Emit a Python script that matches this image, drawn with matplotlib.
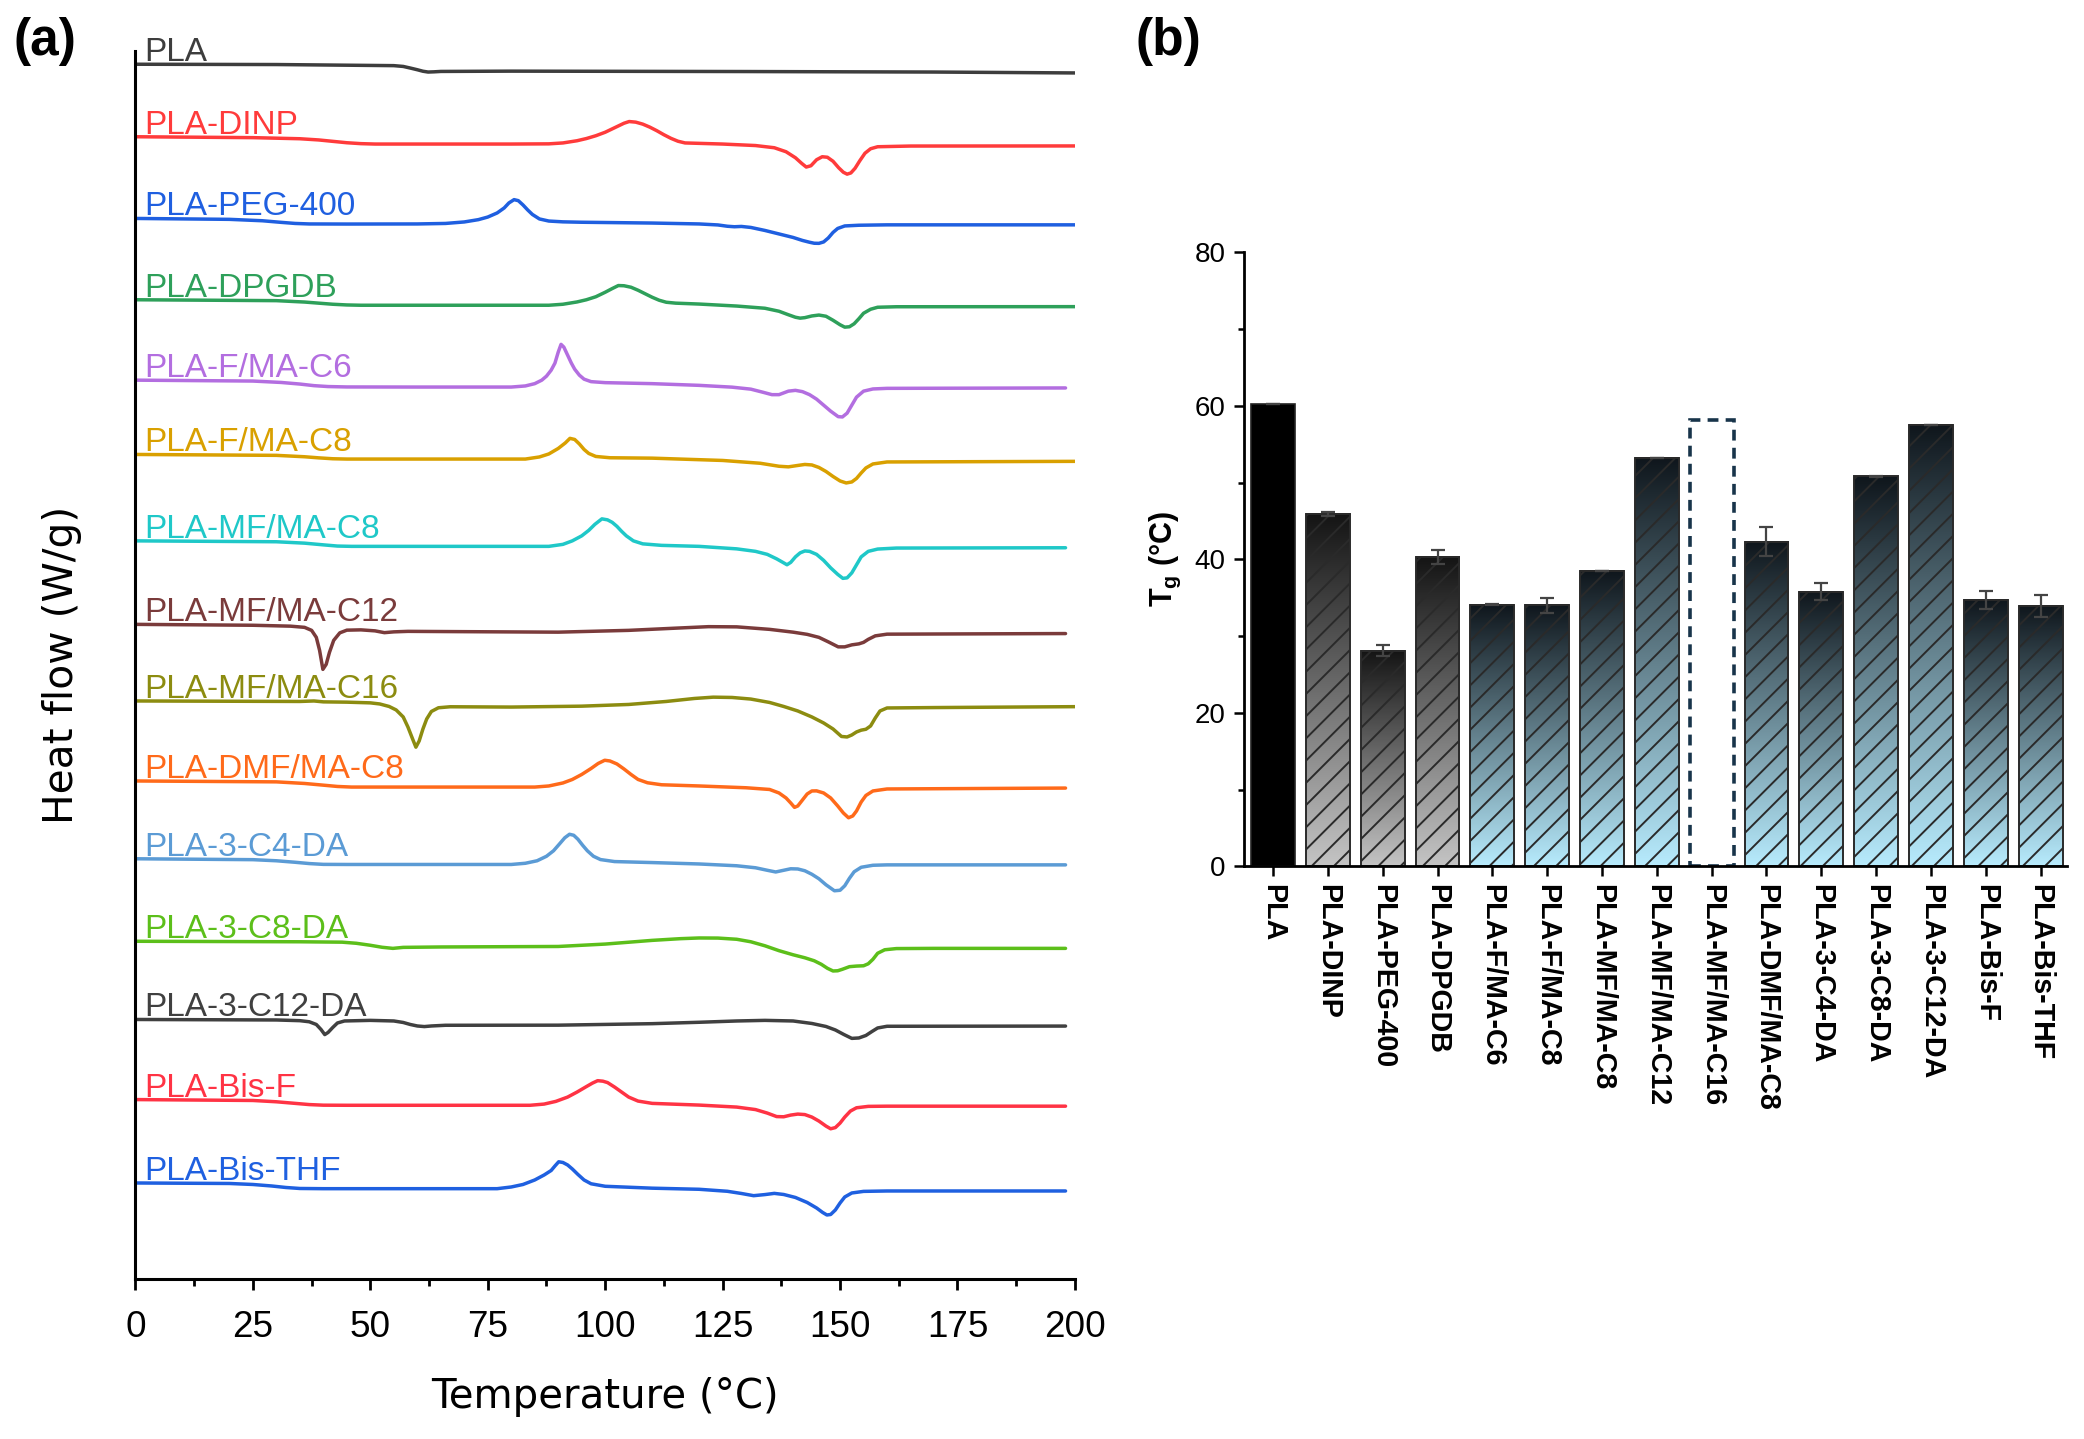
import numpy as np
import matplotlib
matplotlib.use("Agg")
import matplotlib.pyplot as plt
from matplotlib.colors import LinearSegmentedColormap
from matplotlib.ticker import MultipleLocator

plt.rcParams['font.family'] = ['Liberation Sans', 'DejaVu Sans']
plt.rcParams['mathtext.fontset'] = 'custom'
plt.rcParams['mathtext.bf'] = 'Liberation Sans:bold'
plt.rcParams['mathtext.rm'] = 'Liberation Sans'
plt.rcParams['hatch.linewidth'] = 0.7

# ---------------- Panel (a) DSC data ----------------
dsc_names = ["PLA", "PLA-DINP", "PLA-PEG-400", "PLA-DPGDB", "PLA-F/MA-C6", "PLA-F/MA-C8",
             "PLA-MF/MA-C8", "PLA-MF/MA-C12", "PLA-MF/MA-C16", "PLA-DMF/MA-C8",
             "PLA-3-C4-DA", "PLA-3-C8-DA", "PLA-3-C12-DA", "PLA-Bis-F", "PLA-Bis-THF"]
dsc_colors = ['#3d3d3d', '#ff3b3b', '#1f5fe0', '#2ea05a', '#b36ee0', '#d9a000',
              '#1fc8c8', '#7a3b3b', '#8c8c10', '#ff6a1a', '#5b9bd5', '#5cbf1a',
              '#404040', '#ff3344', '#1f60e0']
# vertical stacking offsets (a.u.)
dsc_offsets = [1214.7, 1142.2, 1060.5, 979.2, 898.8, 824.5, 738.1, 654.6, 578.0,
               498.0, 420.2, 337.7, 259.5, 179.4, 96.0]

T_pla = [0, 30, 55, 57, 58.5, 60, 61.2, 62.3, 63.5, 65, 80, 130, 170, 200]
H_pla = [0, -0.3, -1.4, -2.2, -3.8, -5.5, -7.0, -7.8, -7.6, -7.2, -6.9, -7.3, -7.8, -8.7]

T_dinp = [0, 25, 35, 39, 42, 45, 48, 51, 60, 80, 88, 91, 94, 96, 98, 100, 102, 104, 105.1, 106.5,
          108, 109.5, 111, 112.5, 114, 115.5, 117, 125, 132, 136, 138.5, 140.5, 141.8, 142.8, 143.8,
          145, 146.2, 147.3, 148.5, 149.7, 150.7, 151.5, 152.3, 153.2, 154.2, 155.3, 156.5, 158, 165, 200]
H_dinp = [0, -0.9, -2, -3.2, -4.6, -6.0, -6.9, -7.3, -7.3, -7.3, -7.1, -6.2, -4.0, -1.8, 1.0, 4.5,
          9.0, 13.5, 15.2, 14.6, 12.6, 9.6, 6.0, 2.0, -1.6, -4.5, -6.2, -7.3, -8.8, -11, -15, -21,
          -26.5, -30.3, -29, -23, -20, -20.5, -24.5, -31, -35.5, -37.4, -36.2, -31.5, -24, -16.5,
          -12, -10, -9.3, -9.2]

T_peg = [0, 20, 27, 31, 34, 37, 45, 60, 66, 70, 73, 75, 77, 78.5, 79.5, 80.6, 81.5, 82.5, 83.5,
         84.5, 86, 88, 91, 95, 110, 120, 124, 126, 127.5, 129, 131, 134, 137, 140, 142, 143.5,
         144.5, 145.5, 146.5, 147.5, 148.5, 149.5, 151, 154, 160, 200]
H_peg = [0, -0.9, -2.3, -3.9, -5.0, -5.5, -5.6, -5.5, -5.0, -3.5, -1.2, 1.4, 5.5, 10.5, 15.5, 18.8,
         17.8, 13.5, 8.5, 4.0, -0.5, -2.6, -3.4, -3.8, -4.6, -5.5, -6.5, -7.8, -8.3, -8.0, -9.0,
         -12, -15.5, -19, -22, -23.8, -24.8, -24.9, -23.5, -19.5, -14, -10, -7.5, -6.8, -6.4, -6.4]

T_dpgdb = [0, 30, 36, 39, 42, 45, 48, 60, 88, 91, 94, 96, 98, 100, 101.5, 102.8, 104, 105.5, 107,
           108.5, 110, 111.5, 113, 115, 120, 128, 134, 137, 139, 140.5, 141.5, 142.5, 144, 145.5,
           147, 148.5, 150, 151, 152, 153, 154, 155, 156.5, 158, 162, 200]
H_dpgdb = [0, -0.9, -2.3, -3.4, -4.5, -5.2, -5.5, -5.5, -5.5, -4.5, -2.2, 0, 3.0, 7.5, 11.2, 14.2,
           14.0, 12.5, 9.5, 6.0, 2.5, -0.5, -2.5, -3.4, -4.3, -6.3, -8.5, -11.5, -15, -17.5, -18.4,
           -17.9, -16.2, -15.3, -16.5, -20.5, -25, -27.4, -27, -24, -19, -13.5, -9.5, -7.5, -7, -6.9]

T_fc6 = [0, 25, 31, 35, 38, 41, 45, 60, 80, 83, 85, 86.5, 87.5, 88.5, 89.3, 90, 90.6, 91.2, 92,
         92.8, 93.5, 94.5, 95.5, 97, 100, 110, 120, 127, 131, 133.5, 135.5, 137, 139, 140.5, 142,
         143.5, 145, 146.5, 148, 149.6, 150.5, 151.5, 152.5, 153.5, 155, 157, 160, 198]
H_fc6 = [0, -0.9, -2.3, -3.9, -5.5, -6.4, -6.8, -6.9, -6.9, -5.8, -3.5, 0, 4, 10, 17, 28, 35.8, 33,
         25, 17, 11, 5, 1, -1.5, -2.5, -3.5, -5.2, -7, -9, -12, -14.5, -14.5, -11, -10.2, -11.5,
         -14.5, -19, -25, -31, -36.5, -36.8, -33, -25, -17, -11, -8.8, -8.2, -7.8]

T_fc8 = [0, 30, 36, 39, 42, 45, 60, 83, 86, 88, 90, 91.5, 92.5, 93.5, 94.5, 95.5, 96.5, 98, 101,
         110, 125, 133, 137, 139, 141, 142.5, 144, 145.5, 147, 148.5, 150, 151.3, 152.5, 153.5,
         154.5, 155.5, 157, 160, 200]
H_fc8 = [0, -0.9, -2.3, -3.4, -4.3, -4.6, -4.6, -4.6, -2.5, 0.5, 6, 11.5, 16.1, 15, 10.5, 5, 1, -2,
         -3.3, -3.7, -6, -8.8, -11.8, -12.4, -11, -10, -10.5, -13, -17, -22, -26.5, -28.5, -27.5,
         -24, -18.5, -13.5, -9.5, -7.5, -6.9]

T_mfc8 = [0, 30, 36, 40, 43, 46, 60, 88, 91, 93, 95, 96.5, 97.8, 99.3, 100.5, 101.5, 102.5, 103.5,
          104.5, 106, 108, 112, 120, 128, 132, 134.5, 136.5, 138, 138.7, 139.5, 140.5, 141.5, 142.5,
          143.5, 145, 146.5, 148, 149.5, 150.6, 151.5, 152.5, 153.5, 154.5, 156, 158, 162, 198]
H_mfc8 = [0, -0.9, -2.3, -4, -5.2, -5.5, -5.5, -5.5, -3.5, 0, 5, 10.5, 16.5, 22, 21, 18.5, 14.5,
          9.5, 5, 0, -3, -4.5, -5.5, -8, -10.5, -13.5, -18, -22, -23.9, -21.5, -16, -12, -10.1,
          -10.5, -13.5, -19.5, -27, -33.5, -37.5, -37, -32, -24, -16, -10.5, -8.2, -7.2, -6.9]

T_mfc12 = [0, 25, 33, 36, 37.5, 38.5, 39.2, 39.9, 40.6, 41.3, 42.2, 43.5, 45, 48, 51, 53, 55, 58,
           70, 90, 105, 115, 122, 128, 135, 140, 143, 145.5, 147.5, 149.6, 151, 152.5, 154, 155,
           156, 157.5, 160, 198]
H_mfc12 = [0, -0.9, -1.8, -3.0, -6, -13, -26, -45, -40, -28, -16, -8.5, -5.8, -5.5, -6.5, -8.3,
           -7.5, -7, -7.3, -7.8, -6, -3.8, -2.3, -2.5, -5.0, -7.8, -10, -13, -17.5, -22.5, -22.5,
           -20.5, -19.5, -18, -15, -11.5, -9.8, -9.2]

T_mfc16 = [0, 35, 38, 40, 45, 50, 52, 54, 55.5, 57, 58, 59, 59.7, 60.4, 61.2, 62, 63, 64.5, 67,
           80, 95, 105, 113, 119, 123, 127, 131, 135, 138, 141, 144, 146.5, 148.5, 150.3, 151.5,
           152.5, 153.5, 154.5, 155.5, 156.5, 157.5, 158.5, 160, 170, 200]
H_mfc16 = [0, -0.5, 0, -0.9, -1.2, -1.9, -3, -5.5, -9, -16, -26, -38, -46.2, -40, -28, -18, -10.5,
           -6.8, -5.8, -6.1, -5.2, -3.5, -0.5, 2.5, 3.8, 3.5, 1.9, -1.5, -5.5, -10, -16, -22, -28,
           -35.5, -36, -34, -31, -29.2, -28.3, -25, -17, -10, -7, -6.6, -5.7]

T_dmf = [0, 30, 36, 40, 43, 46, 60, 85, 88, 91, 93, 95, 97, 98.5, 99.9, 101, 102.5, 104, 105.5,
         107, 109, 112, 120, 130, 135, 137, 138.5, 139.5, 140.3, 141, 142, 143, 144, 145, 146.5,
         148, 149.5, 150.7, 151.8, 152.7, 153.5, 154.5, 155.5, 157, 160, 198]
H_dmf = [0, -0.9, -2.5, -4.2, -5.5, -6.1, -6.1, -6.1, -5.0, -2.0, 1.5, 6.5, 12.5, 17.5, 20.7, 20,
         17, 12, 6.5, 1.5, -1.8, -3.8, -5, -6.8, -8.5, -12, -17, -22, -26.4, -25, -19, -13, -10,
         -9.9, -12, -17, -25, -32, -36.8, -35, -30, -21, -14.5, -10, -8, -7.1]

T_c4 = [0, 25, 30, 34, 37, 40, 45, 80, 83, 85.5, 87.5, 89, 90.3, 91.4, 92.4, 93.3, 94.2, 95.2,
        96.2, 97.5, 99, 102, 110, 120, 128, 132, 134.5, 136.3, 138, 139.5, 141, 142.5, 144, 145.5,
        147, 148.8, 150, 151, 152, 153, 154.5, 157, 160, 198]
H_c4 = [0, -0.9, -2, -3.5, -4.8, -5.6, -5.7, -5.7, -4.5, -2, 2.5, 8, 15, 21, 24.5, 23.5, 19.5,
        13.5, 8, 2.5, -0.8, -2.8, -3.8, -5.2, -7, -9, -11.5, -13.2, -11.5, -10, -10.2, -12, -15.5,
        -20, -26, -32, -31.5, -27, -19.5, -13, -8.5, -6.5, -6.1, -6.1]

T_c8 = [0, 35, 44, 47, 50, 52.5, 54.8, 57, 65, 90, 100, 110, 116, 120, 124, 128, 131, 134, 137,
        140, 142.5, 144.5, 146, 147.3, 148.5, 149.5, 150.5, 152, 153.5, 155, 156, 157, 158, 159.5,
        162, 170, 198]
H_c8 = [0, -0.5, -0.9, -2.0, -4.0, -6.0, -7.1, -6.1, -5.7, -5.2, -2.8, 0.9, 2.6, 3.3, 3.2, 2.0,
        -0.5, -4.5, -9.4, -13.5, -16.5, -19.5, -23, -27, -29.7, -29.5, -28, -25.4, -24.8, -24.5,
        -22.5, -18, -12, -8.5, -7.3, -7.1, -7.1]

T_c12 = [0, 30, 35, 37, 38.5, 39.5, 40.3, 41, 42, 43, 44.5, 50, 55, 57, 58.5, 60, 61.5, 63, 66, 90,
         110, 120, 128, 134, 140, 144, 147, 149, 150.8, 152.5, 154, 155.5, 156.8, 158, 160, 198]
H_c12 = [0, -0.5, -1.2, -2.3, -5, -10, -15.1, -13, -8, -3.5, -1.5, -0.9, -1.5, -3, -5, -6.5, -7.1,
         -6.5, -5.8, -5.7, -4.2, -2.8, -1.5, -0.9, -1.5, -4, -7, -10.5, -15, -18.9, -18.5, -16,
         -12, -8.5, -6.8, -6.6]

T_bisf = [0, 25, 30, 34, 37, 40, 45, 84, 87, 89.5, 92, 94, 96, 97.3, 98.4, 99.5, 100.5, 102, 103.5,
          105, 107, 110, 120, 128, 132, 134.5, 136.5, 138, 139.5, 141, 142.5, 144, 145.5, 147, 148,
          149, 150, 151, 152.2, 153.5, 156, 160, 198]
H_bisf = [0, -0.9, -2.2, -3.8, -5.0, -5.6, -5.7, -5.7, -4.5, -1.8, 2.5, 7.5, 13, 16.5, 18.9, 18.4,
          17, 12.5, 7.5, 2.5, -1.5, -3.8, -5.5, -7.5, -10, -13.5, -17, -17.2, -15.5, -14.5, -15,
          -17.5, -21.5, -26.5, -29.2, -28, -23.5, -17.5, -11.5, -8.2, -6.8, -6.6, -6.6]

T_thf = [0, 20, 25, 29, 32, 35, 40, 77, 80, 82.5, 85, 87, 88.5, 89.3, 90.1, 91, 92, 93, 94.2, 95.5,
         97, 100, 110, 120, 126, 129, 131.6, 134, 136, 138, 140.5, 143, 145, 146.3, 147.2, 148,
         149, 150, 151, 152.5, 155, 160, 198]
H_thf = [0, -0.5, -1.5, -3, -4.5, -5.5, -5.7, -5.7, -4, -1.5, 3, 8, 12.5, 17, 21.2, 20.5, 18, 14,
         8.5, 3, -0.8, -3.3, -5.2, -6.3, -8.3, -10.5, -12.7, -11.6, -10.4, -11.5, -14.5, -19.5, -25,
         -29.5, -32, -31.5, -27, -20, -14, -10, -8.4, -8, -8]

dsc_T = [T_pla, T_dinp, T_peg, T_dpgdb, T_fc6, T_fc8, T_mfc8, T_mfc12, T_mfc16, T_dmf,
         T_c4, T_c8, T_c12, T_bisf, T_thf]
dsc_H = [H_pla, H_dinp, H_peg, H_dpgdb, H_fc6, H_fc8, H_mfc8, H_mfc12, H_mfc16, H_dmf,
         H_c4, H_c8, H_c12, H_bisf, H_thf]

# ---------------- Panel (b) Tg data ----------------
tg_labels = ["PLA", "PLA-DINP", "PLA-PEG-400", "PLA-DPGDB", "PLA-F/MA-C6", "PLA-F/MA-C8",
             "PLA-MF/MA-C8", "PLA-MF/MA-C12", "PLA-MF/MA-C16", "PLA-DMF/MA-C8",
             "PLA-3-C4-DA", "PLA-3-C8-DA", "PLA-3-C12-DA", "PLA-Bis-F", "PLA-Bis-THF"]
tg_values = [60.2, 45.9, 28.1, 40.3, 34.1, 34.0, 38.5, 53.2, np.nan, 42.3, 35.8, 50.8, 57.5, 34.7, 33.9]
tg_errors = [0.0, 0.3, 0.7, 0.9, 0.1, 1.0, 0.0, 0.0, np.nan, 1.9, 1.1, 0.1, 0.05, 1.2, 1.4]
tg_group = ['pla', 'gray', 'gray', 'gray', 'blue', 'blue', 'blue', 'blue', 'missing',
            'blue', 'blue', 'blue', 'blue', 'blue', 'blue']
missing_placeholder = 58.2

# ---------------- Figure ----------------
fig = plt.figure(figsize=(10.42, 7.195), dpi=200)

# Panel (a)
axa = fig.add_axes([0.0650, 0.1112, 0.4508, 0.8534])
for name, col, off, T, H in zip(dsc_names, dsc_colors, dsc_offsets, dsc_T, dsc_H):
    axa.plot(T, off + np.asarray(H), color=col, lw=1.25, solid_joinstyle='round',
             solid_capstyle='round')
    axa.text(1.8, off + 3.0, name, color=col, fontsize=12, ha='left', va='baseline')

axa.set_xlim(0, 200)
axa.set_ylim(0, 1228)
axa.spines['top'].set_visible(False)
axa.spines['right'].set_visible(False)
for s in ['left', 'bottom']:
    axa.spines[s].set_linewidth(1.1)
axa.set_yticks([])
axa.xaxis.set_major_locator(MultipleLocator(25))
axa.xaxis.set_minor_locator(MultipleLocator(12.5))
axa.tick_params(axis='x', which='major', direction='out', length=4, width=1.0, pad=7)
axa.tick_params(axis='x', which='minor', direction='out', length=2.5, width=1.0)
for lbl in axa.get_xticklabels():
    lbl.set_family(['Liberation Sans Narrow', 'Liberation Sans'])
    lbl.set_fontsize(13.3)
axa.set_xlabel('Temperature (°C)', fontsize=14.5, family='DejaVu Sans')
axa.xaxis.set_label_coords(0.4997, -0.080)
axa.set_ylabel('Heat flow (W/g)', fontsize=14.7, family='DejaVu Sans')
axa.yaxis.set_label_coords(-0.057, 0.5)

# Panel (b)
axb = fig.add_axes([0.5968, 0.3979, 0.3950, 0.4268])
x = np.arange(len(tg_labels))
width = 0.8
cmap_gray = LinearSegmentedColormap.from_list('g', ['#c4c4c4', '#141414'])
cmap_blue = LinearSegmentedColormap.from_list('b', ['#b7ebfd', '#0f161c'])
grad = np.linspace(0, 1, 256).reshape(-1, 1)

for xi, v, grp in zip(x, tg_values, tg_group):
    if grp == 'pla':
        axb.bar(xi, v, width=width, color='#000000', edgecolor='#222222', linewidth=0.6, zorder=2)
    elif grp == 'missing':
        axb.bar(xi, missing_placeholder, width=width, facecolor='white', edgecolor='#18344a',
                linewidth=1.3, linestyle=(0, (3, 2)), zorder=2)
    else:
        cm = cmap_gray if grp == 'gray' else cmap_blue
        axb.imshow(grad, extent=[xi - width / 2, xi + width / 2, 0, v], origin='lower',
                   cmap=cm, aspect='auto', zorder=1, interpolation='bilinear')
        axb.bar(xi, v, width=width, facecolor='none', edgecolor='#2a2a2a', linewidth=0.7,
                hatch='///', zorder=2)

mask = ~np.isnan(np.asarray(tg_values))
axb.errorbar(x[mask], np.asarray(tg_values)[mask], yerr=np.asarray(tg_errors)[mask], fmt='none',
             ecolor='#444444', elinewidth=0.8, capsize=2.5, capthick=0.8, zorder=3)

axb.set_xlim(-0.535, 14.48)
axb.set_ylim(0, 80)
axb.spines['top'].set_visible(False)
axb.spines['right'].set_visible(False)
for s in ['left', 'bottom']:
    axb.spines[s].set_linewidth(1.0)
axb.yaxis.set_major_locator(MultipleLocator(20))
axb.yaxis.set_minor_locator(MultipleLocator(10))
axb.tick_params(axis='y', which='major', direction='out', length=3.5, width=0.9, pad=3)
axb.tick_params(axis='y', which='minor', direction='out', length=2, width=0.9)
axb.tick_params(axis='x', which='major', direction='out', length=3.5, width=0.9, pad=3)
axb.set_xticks(x)
axb.set_xticklabels(tg_labels, rotation=-90, fontsize=10.3, fontweight='bold', ha='center', va='top')
for lbl in axb.get_yticklabels():
    lbl.set_family(['Liberation Sans Narrow', 'Liberation Sans'])
    lbl.set_fontsize(10)
axb.set_ylabel(r'$\mathbf{T_g}$ (°C)', fontsize=11, fontweight='bold')
axb.yaxis.set_label_coords(-0.074, 0.5)

fig.text(13 / 2084, 1 - 42 / 1439, '(a)', fontsize=18.5, fontweight='bold', va='center', ha='left')
fig.text(1136 / 2084, 1 - 42 / 1439, '(b)', fontsize=18.5, fontweight='bold', va='center', ha='left')

fig.savefig('out.png', dpi=200)
